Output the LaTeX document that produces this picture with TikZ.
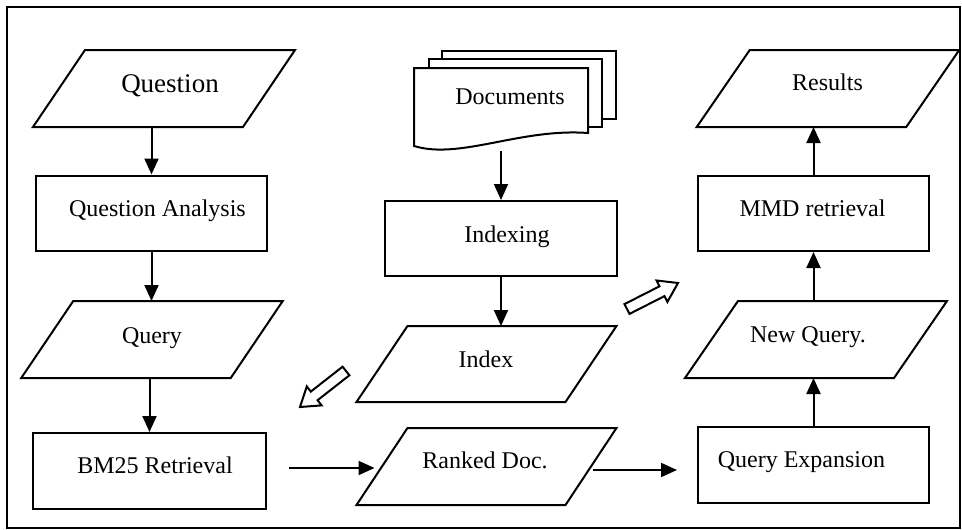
\documentclass[tikz,border=0pt]{standalone}
\usepackage{fontspec}
\setmainfont{Liberation Serif}
\usetikzlibrary{arrows.meta}

% draw a parallelogram around a plain rectangular node; #2 is half the slant
\newcommand{\ioshape}[2]{%
  \draw[fill=white] ([xshift=#2pt]#1.north west) -- ([xshift=#2pt]#1.north east)
    -- ([xshift=-#2pt]#1.south east) -- ([xshift=-#2pt]#1.south west) -- cycle;}

\begin{document}
\begin{tikzpicture}[x=1pt,y=-1pt,line width=2pt,line join=miter,
  procbox/.style 2 args={draw,fill=white,rectangle,inner sep=0pt,
    minimum width=#1pt,minimum height=#2pt},
  iobox/.style 2 args={rectangle,inner sep=0pt,
    minimum width=#1pt,minimum height=#2pt},
  tx/.style={inner sep=0pt,anchor=base,font=\fontsize{24}{28}\selectfont},
  flow/.style={-{Triangle[length=16pt,width=14pt]},line width=2pt}]

\useasboundingbox (0,0) rectangle (962,530);
\draw[line width=2pt] (7,7) rectangle (960,528);

% left column
\node[iobox={208}{75}] (q) at (164,88.5) {};
\ioshape{q}{26}
\node[procbox={231}{75}] (qa) at (151.5,213) {};
\node[iobox={207.5}{75}] (qy) at (152,339.5) {};
\ioshape{qy}{26}
\node[procbox={233}{76}] (bm) at (149.5,471) {};

% document stack
\draw[fill=white] (442,51) rectangle (616,119);
\draw[fill=white] (429,59) rectangle (602,127);
\draw[fill=white] (414,146) -- (414,68) -- (588,68) -- (588,133)
  .. controls (520,128) and (460,160) .. (414,146) -- cycle;
\node[rectangle,inner sep=0pt,minimum width=174pt,minimum height=78pt] (docs) at (501,107) {};
\coordinate (docsout) at (501,151);

% middle column
\node[procbox={232}{75}] (ix) at (501,238.5) {};
\node[iobox={207}{74}] (idx) at (486.5,364) {};
\ioshape{idx}{25.5}
\node[iobox={207}{75}] (rk) at (486.5,466.5) {};
\ioshape{rk}{25.5}

% right column
\node[iobox={207.5}{75}] (res) at (828,88.5) {};
\ioshape{res}{26.5}
\node[procbox={231}{75}] (mmd) at (813.5,213.5) {};
\node[iobox={207}{75}] (nq) at (816,339.5) {};
\ioshape{nq}{26.5}
\node[procbox={231}{76}] (qe) at (813.5,465) {};

% labels
\node[tx,font=\fontsize{27}{31}\selectfont] (tq) at (170,92) {Question};
\node[tx] (tqa) at (157.5,216) {Question Analysis};
\node[tx] (tqy) at (152,343) {Query};
\node[tx] (tbm) at (155,473) {BM25 Retrieval};
\node[tx] (tdocs) at (510,104) {Documents};
\node[tx] (tix) at (507,242) {Indexing};
\node[tx] (tidx) at (486,367) {Index};
\node[tx] (trk) at (485,468) {Ranked Doc.};
\node[tx] (tres) at (827.5,90) {Results};
\node[tx] (tmmd) at (812.5,216) {MMD retrieval};
\node[tx] (tnq) at (808,342) {New Query.};
\node[tx] (tqe) at (801.5,467) {Query Expansion};

% connectors
\draw[flow] (qa.north |- q.south) -- (qa.north);
\draw[flow] (qa.south) -- (qa.south |- qy.north);
\draw[flow] (bm.north |- qy.south) -- (bm.north);
\draw[flow] (docsout) -- (ix.north);
\draw[flow] (ix.south) -- (ix.south |- idx.north);
\draw[flow] ([xshift=22pt,yshift=3pt]bm.east) -- ([xshift=-7.5pt,yshift=-1.5pt]rk.west);
\draw[flow] ([xshift=2pt,yshift=-3.5pt]rk.east) -- ([xshift=-20pt,yshift=-5pt]qe.west);
\draw[flow] (qe.north) -- (qe.north |- nq.south);
\draw[flow] (mmd.south |- nq.north) -- (mmd.south);
\draw[flow] (mmd.north) -- (mmd.north |- res.south);

% hollow block arrows
\draw[fill=white] (349.4,375.3) -- (317.6,400.2) -- (321.6,405.4) -- (300,407)
  -- (306.8,386.4) -- (310.8,391.6) -- (342.6,366.7) -- cycle;
\draw[fill=white] (629.5,313.9) -- (664.5,296.1) -- (667.4,301.9) -- (678,283)
  -- (656.6,280.5) -- (659.5,286.3) -- (624.5,304.1) -- cycle;
\end{tikzpicture}
\end{document}
